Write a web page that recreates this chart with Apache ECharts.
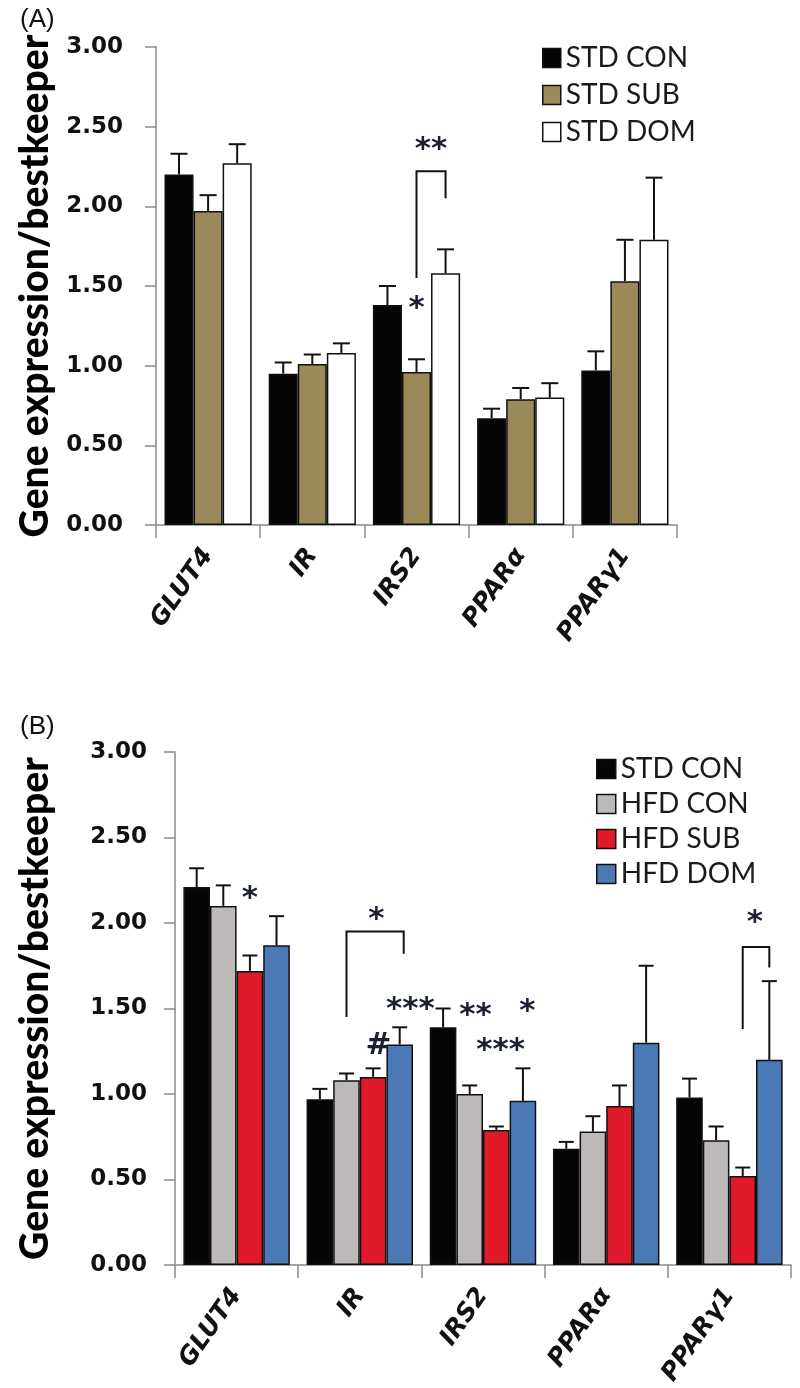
<!DOCTYPE html>
<html>
<head>
<meta charset="utf-8">
<script src="https://cdn.jsdelivr.net/npm/echarts@6/dist/echarts.min.js"></script>
<style>
html,body{margin:0;padding:0;background:#fff;}
#chart{width:800px;height:1388px;}
</style>
</head>
<body>
<div id="chart"></div>
<script>
// ---------- data ----------
const categories = ['GLUT4', 'IR', 'IRS2', 'PPARα', 'PPARγ1'];
const yTicks = ['0.00', '0.50', '1.00', '1.50', '2.00', '2.50', '3.00'];

// Panel A
const seriesNamesA = ['STD CON', 'STD SUB', 'STD DOM'];
const stdConA = [2.20, 0.95, 1.38, 0.67, 0.97];
const stdConA_err = [0.13, 0.07, 0.12, 0.06, 0.12];
const stdSubA = [1.97, 1.01, 0.96, 0.79, 1.53];
const stdSubA_err = [0.10, 0.06, 0.08, 0.07, 0.26];
const stdDomA = [2.27, 1.08, 1.58, 0.80, 1.79];
const stdDomA_err = [0.12, 0.06, 0.15, 0.09, 0.39];

// Panel B
const seriesNamesB = ['STD CON', 'HFD CON', 'HFD SUB', 'HFD DOM'];
const stdConB = [2.21, 0.97, 1.39, 0.68, 0.98];
const stdConB_err = [0.11, 0.06, 0.11, 0.04, 0.11];
const hfdConB = [2.10, 1.08, 1.00, 0.78, 0.73];
const hfdConB_err = [0.12, 0.04, 0.05, 0.09, 0.08];
const hfdSubB = [1.72, 1.10, 0.79, 0.93, 0.52];
const hfdSubB_err = [0.09, 0.05, 0.02, 0.12, 0.05];
const hfdDomB = [1.87, 1.29, 0.96, 1.30, 1.20];
const hfdDomB_err = [0.17, 0.10, 0.19, 0.45, 0.46];

// significance marks: [category index, bar position, value, text]
const marksA = [[2, 1, 1.40, '*'], [2, 1.5, 2.40, '**']];
const marksB = [
  [0, 2, 2.18, '*'],
  [1, 2.12, 2.06, '*'], [1, 2.2, 1.32, '#'], [1, 3.4, 1.53, '***'],
  [2, 1.22, 1.50, '**'], [2, 2.16, 1.29, '***'], [2, 3.17, 1.52, '*'],
  [4, 2.46, 2.04, '*']
];
// brackets: [category index, left bar pos, right bar pos, top value, left bottom value, right bottom value]
const bracketsA = [[2, 1, 2, 2.22, 1.55, 2.05]];
const bracketsB = [[1, 1, 3.15, 1.95, 1.45, 1.82], [4, 2, 3, 1.86, 1.38, 1.74]];

// ---------- styles ----------
const colorsA = ['#050505', '#9a8a5a', '#ffffff'];
const colorsB = ['#050505', '#bdb9b9', '#e01a2b', '#4a79b5'];
const BAR_RATIO_A = 0.279;
const BAR_RATIO_B = 0.216;
const markColor = '#1b2030';

const chart = echarts.init(document.getElementById('chart'), null, {renderer: 'canvas'});

function yAxisCfg(gridIndex, labelMargin, nameGap) {
  return {
    type: 'value', gridIndex: gridIndex, min: 0, max: 3, interval: 0.5,
    name: 'Gene expression/bestkeeper', nameLocation: 'middle', nameGap: nameGap,
    nameTextStyle: {fontFamily: 'Lato', fontWeight: 900, fontSize: 39, color: '#000'},
    axisLine: {show: true, lineStyle: {color: '#8a8a8a', width: 1.5}},
    axisTick: {show: true, length: 11, inside: false, lineStyle: {color: '#8a8a8a', width: 1.5}},
    splitLine: {show: false},
    axisLabel: {
      margin: labelMargin, fontFamily: 'DejaVu Sans', fontWeight: 'bold', fontSize: 23, color: '#111',
      formatter: function (v) { return yTicks[Math.round(v / 0.5)]; }
    }
  };
}
function xAxisCfg(gridIndex) {
  return {
    type: 'category', gridIndex: gridIndex, data: categories,
    axisLine: {show: true, lineStyle: {color: '#8a8a8a', width: 1.5}},
    axisTick: {show: true, length: 13, lineStyle: {color: '#8a8a8a', width: 1.5}},
    axisLabel: {rotate: 55, margin: 26, interval: 0, fontFamily: 'DejaVu Sans', fontWeight: 'bold',
      fontStyle: 'italic', fontSize: 25, color: '#111'}
  };
}

function barSeries(name, data, color, idx, ratio) {
  return {
    type: 'bar', name: name, data: data, xAxisIndex: idx, yAxisIndex: idx,
    barWidth: (ratio * 100) + '%', barGap: '0%',
    itemStyle: {color: color, borderColor: '#111', borderWidth: 1.5},
    emphasis: {disabled: true}, z: 2
  };
}

function errSeries(idx, vals, errs, ratio, capW) {
  const data = [];
  const n = vals.length;
  vals.forEach(function (arr, si) {
    arr.forEach(function (v, ci) { data.push([ci, v, v + errs[si][ci], si]); });
  });
  return {
    type: 'custom', xAxisIndex: idx, yAxisIndex: idx, data: data, z: 3,
    encode: {x: 0, y: 2},
    renderItem: function (params, api) {
      const ci = api.value(0), v = api.value(1), top = api.value(2), si = api.value(3);
      const band = api.size([1, 0])[0];
      const bw = band * ratio;
      const c = api.coord([ci, v]);
      const x = c[0] + (si - (n - 1) / 2) * bw;
      const yt = api.coord([ci, top])[1];
      const st = {stroke: '#111', lineWidth: 2};
      return {type: 'group', children: [
        {type: 'line', shape: {x1: x, y1: c[1], x2: x, y2: yt}, style: st},
        {type: 'line', shape: {x1: x - capW / 2, y1: yt, x2: x + capW / 2, y2: yt}, style: st}
      ]};
    }
  };
}

function markSeries(idx, marks, n, ratio) {
  return {
    type: 'custom', xAxisIndex: idx, yAxisIndex: idx, data: marks, z: 4,
    encode: {x: 0, y: 2},
    renderItem: function (params, api) {
      const m = marks[params.dataIndex];
      const band = api.size([1, 0])[0];
      const bw = band * ratio;
      const c = api.coord([m[0], m[2]]);
      const x = c[0] + (m[1] - (n - 1) / 2) * bw;
      return {type: 'text', style: {text: m[3], x: x, y: c[1] + 7, fill: markColor,
        align: 'center', verticalAlign: 'middle',
        font: 'bold 31px "DejaVu Sans"'}};
    }
  };
}

function bracketSeries(idx, brs, n, ratio) {
  return {
    type: 'custom', xAxisIndex: idx, yAxisIndex: idx, data: brs, z: 4,
    encode: {x: 0, y: 3},
    renderItem: function (params, api) {
      const b = brs[params.dataIndex];
      const band = api.size([1, 0])[0];
      const bw = band * ratio;
      const cx = api.coord([b[0], 0])[0];
      const x1 = cx + (b[1] - (n - 1) / 2) * bw;
      const x2 = cx + (b[2] - (n - 1) / 2) * bw;
      const yt = api.coord([b[0], b[3]])[1];
      const yl = api.coord([b[0], b[4]])[1];
      const yr = api.coord([b[0], b[5]])[1];
      return {type: 'polyline', shape: {points: [[x1, yl], [x1, yt], [x2, yt], [x2, yr]]},
        style: {stroke: '#111', lineWidth: 2, fill: null}};
    }
  };
}

const valsA = [stdConA, stdSubA, stdDomA];
const errsA = [stdConA_err, stdSubA_err, stdDomA_err];
const valsB = [stdConB, hfdConB, hfdSubB, hfdDomB];
const errsB = [stdConB_err, hfdConB_err, hfdSubB_err, hfdDomB_err];

const series = [];
valsA.forEach(function (d, i) { series.push(barSeries(seriesNamesA[i], d, colorsA[i], 0, BAR_RATIO_A)); });
valsB.forEach(function (d, i) { series.push(barSeries(seriesNamesB[i] + ' ', d, colorsB[i], 1, BAR_RATIO_B)); });
series.push(errSeries(0, valsA, errsA, BAR_RATIO_A, 17));
series.push(errSeries(1, valsB, errsB, BAR_RATIO_B, 15));
series.push(markSeries(0, marksA, 3, BAR_RATIO_A));
series.push(markSeries(1, marksB, 4, BAR_RATIO_B));
series.push(bracketSeries(0, bracketsA, 3, BAR_RATIO_A));
series.push(bracketSeries(1, bracketsB, 4, BAR_RATIO_B));

const legendText = {fontFamily: 'Lato', fontSize: 28, color: '#1a1a1a', lineHeight: 30};
chart.setOption({
  animation: false,
  backgroundColor: '#ffffff',
  title: [
    {text: '(A)', left: 15, top: 2, textStyle: {fontFamily: 'Liberation Sans', fontWeight: 'normal', fontSize: 26, color: '#111'}},
    {text: '(B)', left: 15, top: 709, textStyle: {fontFamily: 'Liberation Sans', fontWeight: 'normal', fontSize: 26, color: '#111'}}
  ],
  grid: [
    {left: 156, right: 123, top: 47, height: 478, outerBoundsMode: 'none'},
    {left: 175, right: 9, top: 752, height: 513, outerBoundsMode: 'none'}
  ],
  xAxis: [xAxisCfg(0), xAxisCfg(1)],
  yAxis: [yAxisCfg(0, 33, 100), yAxisCfg(1, 28, 120)],
  legend: [
    {orient: 'vertical', left: 537, top: 38, itemWidth: 18, itemHeight: 19, itemGap: 7,
      textStyle: legendText, icon: 'rect',
      data: seriesNamesA.map(function (n, i) { return {name: n, itemStyle: {color: colorsA[i], borderColor: '#111', borderWidth: 1.5}}; })},
    {orient: 'vertical', left: 591, top: 749, itemWidth: 19, itemHeight: 19, itemGap: 5,
      textStyle: legendText, icon: 'rect',
      formatter: function (n) { return n.trim(); },
      data: seriesNamesB.map(function (n, i) { return {name: n + ' ', itemStyle: {color: colorsB[i], borderColor: '#111', borderWidth: 1.5}}; })}
  ],
  series: series
});
</script>
</body>
</html>
